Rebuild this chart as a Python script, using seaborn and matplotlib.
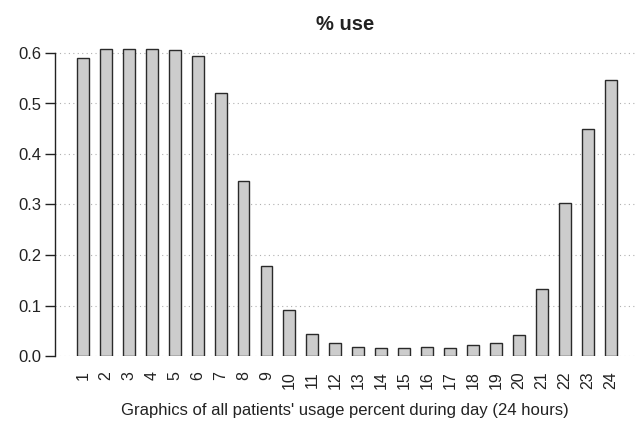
import matplotlib
matplotlib.use("Agg")
import matplotlib.pyplot as plt
import seaborn as sns

hours = [str(h) for h in range(1, 25)]
use = [0.591, 0.608, 0.608, 0.607, 0.605, 0.594, 0.521, 0.347, 0.178, 0.092,
       0.044, 0.025, 0.017, 0.015, 0.016, 0.017, 0.015, 0.022, 0.025, 0.041,
       0.132, 0.302, 0.449, 0.546]
yticks = [0.0, 0.1, 0.2, 0.3, 0.4, 0.5, 0.6]

sns.set_style("white")
plt.rcParams['font.family'] = ['Liberation Sans', 'DejaVu Sans']

fig = plt.figure(figsize=(6.35, 4.23), dpi=100)
ax = fig.add_axes([55 / 635, 1 - 356 / 423, 1 - 55 / 635, (356 - 40) / 423])

sns.barplot(x=hours, y=use, color='#cccccc', saturation=1, edgecolor='#2a2a2a',
            linewidth=1, width=0.52, ax=ax, zorder=3)

ax.set_xlim(-1.21, 24.05)
ax.set_ylim(0, 0.6 * 316 / 303)
ax.set_yticks(yticks)
ax.set_yticklabels([f"{v:.1f}" for v in yticks], fontsize=12)
ax.tick_params(axis='y', left=True, length=7, width=1, color='#222222', pad=3,
               labelcolor='#222222')
ax.tick_params(axis='x', bottom=False, length=0, pad=11, labelsize=11.5, rotation=90,
               labelcolor='#222222')
ax.yaxis.grid(True, linestyle=(0, (1, 3)), color='#b0b0b0', linewidth=0.8, zorder=0)
ax.xaxis.grid(False)

for s in ['top', 'right', 'bottom']:
    ax.spines[s].set_visible(False)
ax.spines['left'].set_bounds(0, 0.6)
ax.spines['left'].set_color('#222222')
ax.spines['left'].set_linewidth(1)

ax.set_title('% use', fontsize=14.5, fontweight='bold', pad=7, color='#222222')
ax.set_xlabel("Graphics of all patients' usage percent during day (24 hours)",
              fontsize=12, labelpad=10, color='#222222')
ax.set_ylabel('')

fig.savefig('out.png', dpi=100)
